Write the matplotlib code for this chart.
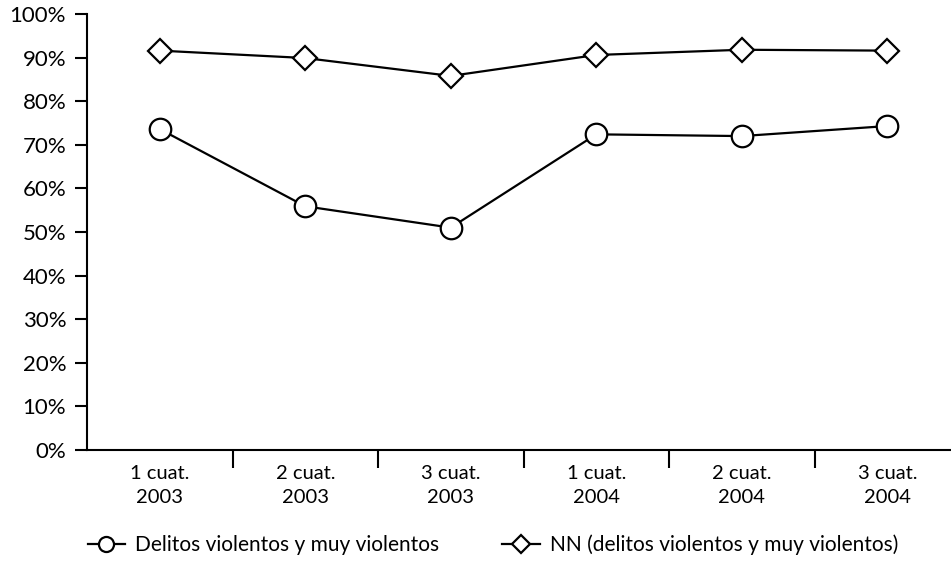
import numpy as np
import matplotlib
matplotlib.use("Agg")
import matplotlib.pyplot as plt
from matplotlib.ticker import FixedLocator, PercentFormatter

# data
periodos = ["1 cuat.\n2003", "2 cuat.\n2003", "3 cuat.\n2003",
            "1 cuat.\n2004", "2 cuat.\n2004", "3 cuat.\n2004"]
violentos = [73.6, 55.9, 51.0, 72.4, 72.0, 74.3]
nn_violentos = [91.6, 89.9, 85.8, 90.6, 91.8, 91.6]

plt.rcParams['font.family'] = ['Lato', 'DejaVu Sans']

fig = plt.figure(figsize=(9.51, 5.72), dpi=100)
W, H = 951, 572
ax = fig.add_axes([87 / W, (H - 450) / H, (960 - 87) / W, (450 - 14) / H])

x = np.arange(len(periodos))
ax.plot(x, nn_violentos, color='black', lw=1.6, marker='D', ms=12.5,
        mfc='white', mec='black', mew=1.6, clip_on=False,
        label='NN (delitos violentos y muy violentos)')
ax.plot(x, violentos, color='black', lw=1.6, marker='o', ms=15.5,
        mfc='white', mec='black', mew=1.6, clip_on=False,
        label='Delitos violentos y muy violentos')

ax.set_xlim(-0.5, len(periodos) - 0.5)
ax.set_ylim(0, 100)
ax.yaxis.set_major_locator(FixedLocator(np.arange(0, 101, 10)))
ax.yaxis.set_major_formatter(PercentFormatter(decimals=0))

ax.set_xticks(x)
ax.set_xticklabels(periodos, fontsize=14.5, linespacing=1.5)
ax.set_xticks(np.arange(0.5, len(periodos) - 0.5, 1), minor=True)
ax.tick_params(axis='x', which='major', length=0, pad=11)
ax.tick_params(axis='x', which='minor', length=13, width=1.5)
ax.tick_params(axis='y', length=9, width=1.5, labelsize=16, pad=6)

for side in ['top', 'right']:
    ax.spines[side].set_visible(False)
for side in ['left', 'bottom']:
    ax.spines[side].set_linewidth(1.5)

handles, labels = ax.get_legend_handles_labels()
leg = fig.legend(handles[::-1], labels[::-1], loc='center',
                 bbox_to_anchor=(493 / W, 1 - 545 / H), ncol=2, frameon=False,
                 fontsize=15, handlelength=1.8, columnspacing=3.0,
                 handletextpad=0.5, markerscale=0.7)

fig.savefig('out.png', dpi=100)
